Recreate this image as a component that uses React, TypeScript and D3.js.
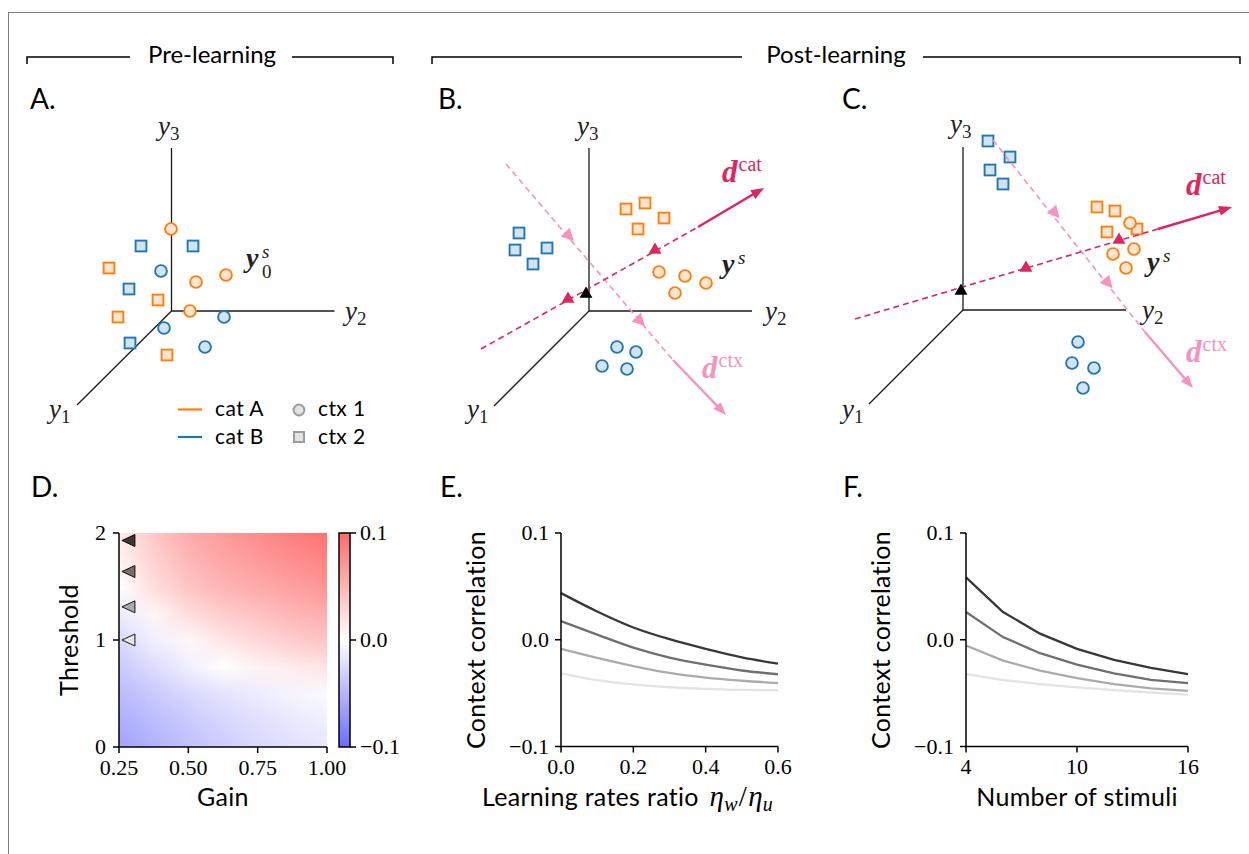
import React, { useMemo } from 'react';
import * as d3 from 'd3';

// ---------- fonts & colours ----------
const SANS = "Lato, 'Open Sans', sans-serif";
const SERIF = "'Liberation Serif', 'DejaVu Serif', serif";
const ORANGE = '#ff7f0e';
const BLUE = '#1f77b4';
const CRIMSON = '#e0245e';
const PINK = '#f592c0';

// ---------- panel A–C data (projected coordinates, units along y2 / y3) ----------
type P = [number, number];
const A_CATA_CTX1: P[] = [[-0.05, 8.2], [2.45, 2.9], [5.45, 3.6], [1.85, 0]];
const A_CATB_CTX1: P[] = [[-1.05, 4.0], [5.25, -0.6], [-0.75, -1.7], [3.35, -3.6]];
const A_CATA_CTX2: P[] = [[-6.25, 4.3], [-1.35, 1.1], [-5.35, -0.6], [-0.45, -4.4]];
const A_CATB_CTX2: P[] = [[-3.05, 6.5], [2.15, 6.5], [-4.25, 2.2], [-4.15, -3.2]];

const B_CATA_CTX1: P[] = [[7.0, 3.9], [9.6, 3.5], [11.7, 2.8], [8.6, 1.8]];
const B_CATB_CTX1: P[] = [[2.8, -3.6], [4.7, -4.1], [1.3, -5.5], [3.8, -5.8]];
const B_CATA_CTX2: P[] = [[3.7, 10.2], [5.6, 10.8], [7.5, 9.3], [4.9, 8.2]];
const B_CATB_CTX2: P[] = [[-7.0, 7.8], [-7.4, 6.1], [-4.2, 6.3], [-5.6, 4.7]];
const B_DCAT: P[] = [[-10.8, -3.8], [10.9, 8.4], [17.5, 12.3]];
const B_DCAT_MARKS: P[] = [[-2.1, 1.2], [6.6, 6.1]];
const B_DCTX: P[] = [[-8.3, 14.7], [8.4, -4.9], [13.7, -10.4]];
const B_DCTX_MARKS: P[] = [[-2.0, 7.5], [5.1, -1.0]];
const B_YS: P = [-0.3, 1.7];

const C_CATA_CTX1: P[] = [[16.7, 8.7], [17.1, 6.1], [15.0, 5.6], [16.3, 4.2]];
const C_CATB_CTX1: P[] = [[11.5, -3.2], [10.9, -5.3], [13.1, -5.8], [12.0, -7.8]];
const C_CATA_CTX2: P[] = [[13.4, 10.3], [15.2, 9.9], [14.4, 7.8], [17.4, 8.1]];
const C_CATB_CTX2: P[] = [[2.5, 16.9], [4.7, 15.3], [2.7, 14.0], [4.0, 12.6]];
const C_DCAT: P[] = [[-10.8, -0.9], [19.5, 8.1], [26.9, 10.3]];
const C_DCAT_MARKS: P[] = [[6.3, 4.2], [15.6, 7.0]];
const C_DCTX: P[] = [[3.0, 17.0], [18.2, -2.2], [23.0, -7.8]];
const C_DCTX_MARKS: P[] = [[9.2, 9.7], [14.5, 2.7]];
const C_YS: P = [-0.2, 1.9];

// ---------- panel D data ----------
const GAIN = [0.25, 0.375, 0.5, 0.625, 0.75, 0.875, 1.0];
const THRESH = [0, 0.25, 0.5, 0.75, 1.0, 1.25, 1.5, 1.75, 2.0];
const CORR_T000 = [-0.062, -0.052, -0.042, -0.033, -0.026, -0.020, -0.016];
const CORR_T025 = [-0.055, -0.045, -0.035, -0.027, -0.021, -0.015, -0.010];
const CORR_T050 = [-0.046, -0.036, -0.026, -0.018, -0.012, -0.007, -0.003];
const CORR_T075 = [-0.036, -0.023, -0.010, 0.000, 0.008, 0.013, 0.018];
const CORR_T100 = [-0.025, -0.010, 0.005, 0.017, 0.026, 0.034, 0.040];
const CORR_T125 = [-0.012, 0.007, 0.023, 0.034, 0.042, 0.049, 0.055];
const CORR_T150 = [0.001, 0.022, 0.040, 0.050, 0.057, 0.064, 0.071];
const CORR_T175 = [0.008, 0.031, 0.049, 0.060, 0.068, 0.076, 0.083];
const CORR_T200 = [0.014, 0.038, 0.057, 0.068, 0.078, 0.087, 0.095];
const CORR_GRID = [CORR_T000, CORR_T025, CORR_T050, CORR_T075, CORR_T100, CORR_T125, CORR_T150, CORR_T175, CORR_T200];
const MARK_THRESH = [1.0, 1.31, 1.64, 1.93];
const MARK_GAIN = 0.284;
const SHADES = ['#e4e4e4', '#ababab', '#6f6f6f', '#383838'];
const CBAR_TICKS = [-0.1, 0, 0.1];

// ---------- panel E data ----------
const ETA_RATIO = [0, 0.1, 0.2, 0.3, 0.4, 0.5, 0.6];
const E_T100 = [-0.0314, -0.0378, -0.0419, -0.0445, -0.0460, -0.0470, -0.0473];
const E_T131 = [-0.0086, -0.0170, -0.0246, -0.0311, -0.0355, -0.0384, -0.0406];
const E_T164 = [0.0175, 0.0048, -0.0074, -0.0167, -0.0234, -0.0288, -0.0323];
const E_T193 = [0.0437, 0.0265, 0.0115, 0.0005, -0.0085, -0.0165, -0.0224];
const E_SERIES = [E_T100, E_T131, E_T164, E_T193];

// ---------- panel F data ----------
const N_STIM = [4, 6, 8, 10, 12, 14, 16];
const F_T100 = [-0.0321, -0.0377, -0.0415, -0.0447, -0.0472, -0.0494, -0.0515];
const F_T131 = [-0.0054, -0.0195, -0.0289, -0.0359, -0.0415, -0.0456, -0.0478];
const F_T164 = [0.0260, 0.0025, -0.0126, -0.0233, -0.0315, -0.0375, -0.0406];
const F_T193 = [0.0585, 0.0260, 0.0057, -0.0085, -0.0189, -0.0264, -0.0321];
const F_SERIES = [F_T100, F_T131, F_T164, F_T193];

const CORR_TICKS = [-0.1, 0, 0.1];
const E_TICKS = [0, 0.2, 0.4, 0.6];
const F_TICKS = [4, 10, 16];
const GAIN_TICKS = [0.25, 0.5, 0.75, 1.0];
const THRESH_TICKS = [0, 1, 2];

const fmtMinus = (s: string) => s.replace('-', '\u2212');

// ---------- 3D-ish panel ----------
type Dir = { pts: P[]; marks: P[]; color: string; rotMarks: boolean };
type Panel3DProps = {
  ox: number; oy: number; axisLen: number; y1End: P;
  catA1: P[]; catB1: P[]; catA2: P[]; catB2: P[];
  dirs?: Dir[]; ys?: P;
  labels: { y3: P; y2: P; y1: P };
};

function Marker({ x, y, shape, color }: { x: number; y: number; shape: 'c' | 's'; color: string }) {
  const fill = d3.interpolateRgb('#ffffff', color)(0.2);
  if (shape === 'c') return <circle cx={x} cy={y} r={5.9} fill={fill} stroke={color} strokeWidth={1.9} />;
  return <rect x={x - 5.4} y={y - 5.4} width={10.8} height={10.8} fill={fill} stroke={color} strokeWidth={1.9} />;
}

function AxisLabel({ x, y, sub }: { x: number; y: number; sub: string }) {
  return (
    <text x={x} y={y} fontFamily={SERIF} fontSize={27} fontStyle="italic" fill="#222">
      y<tspan fontStyle="normal" fontSize={19} dy={5}>{sub}</tspan>
    </text>
  );
}

function Panel3D(p: Panel3DProps) {
  const sx = d3.scaleLinear().domain([0, 10]).range([p.ox, p.ox + 100]);
  const sy = d3.scaleLinear().domain([0, 10]).range([p.oy, p.oy - 100]);
  const tri = d3.symbol(d3.symbolTriangle).size(72)() as string;
  return (
    <g>
      <g stroke="#1a1a1a" strokeWidth={1.3} fill="none">
        <line x1={sx(0)} y1={sy(0)} x2={sx(0)} y2={sy(p.axisLen)} />
        <line x1={sx(0)} y1={sy(0)} x2={sx(p.axisLen)} y2={sy(0)} />
        <line x1={sx(0)} y1={sy(0)} x2={sx(p.y1End[0])} y2={sy(p.y1End[1])} />
      </g>
      <AxisLabel x={sx(p.labels.y3[0])} y={sy(p.labels.y3[1])} sub="3" />
      <AxisLabel x={sx(p.labels.y2[0])} y={sy(p.labels.y2[1])} sub="2" />
      <AxisLabel x={sx(p.labels.y1[0])} y={sy(p.labels.y1[1])} sub="1" />
      {p.catB2.map((d, i) => <Marker key={'b2' + i} x={sx(d[0])} y={sy(d[1])} shape="s" color={BLUE} />)}
      {p.catA2.map((d, i) => <Marker key={'a2' + i} x={sx(d[0])} y={sy(d[1])} shape="s" color={ORANGE} />)}
      {p.catB1.map((d, i) => <Marker key={'b1' + i} x={sx(d[0])} y={sy(d[1])} shape="c" color={BLUE} />)}
      {p.catA1.map((d, i) => <Marker key={'a1' + i} x={sx(d[0])} y={sy(d[1])} shape="c" color={ORANGE} />)}
      {(p.dirs || []).map((dir, k) => {
        const [a, b, c] = dir.pts.map(d => [sx(d[0]), sy(d[1])]);
        const ang = (Math.atan2(c[1] - b[1], c[0] - b[0]) * 180) / Math.PI;
        return (
          <g key={'dir' + k}>
            <line x1={a[0]} y1={a[1]} x2={b[0]} y2={b[1]} stroke={dir.color} strokeWidth={1.6} strokeDasharray="6,4" />
            <line x1={b[0]} y1={b[1]} x2={c[0] - 10 * Math.cos((ang * Math.PI) / 180)} y2={c[1] - 10 * Math.sin((ang * Math.PI) / 180)} stroke={dir.color} strokeWidth={2.4} />
            <path d="M0,0 L-13,-5 L-13,5 Z" fill={dir.color} transform={`translate(${c[0]},${c[1]}) rotate(${ang})`} />
            {dir.marks.map((m, i) =>
              dir.rotMarks ? (
                <path key={i} d="M7,0 L-5.5,-6.3 L-5.5,6.3 Z" fill={dir.color} transform={`translate(${sx(m[0])},${sy(m[1])}) rotate(${ang})`} />
              ) : (
                <path key={i} d={tri} fill={dir.color} transform={`translate(${sx(m[0])},${sy(m[1])})`} />
              )
            )}
          </g>
        );
      })}
      {p.ys && <path d={tri} fill="#000" transform={`translate(${sx(p.ys[0])},${sy(p.ys[1])})`} />}
    </g>
  );
}

// ---------- bold d label with superscript ----------
function DLabel({ x, y, sup, color }: { x: number; y: number; sup: string; color: string }) {
  return (
    <text x={x} y={y} fill={color} fontFamily={SERIF}>
      <tspan fontSize={31} fontWeight="bold" fontStyle="italic">d</tspan>
      <tspan fontSize={20} dy={-11} dx={1}>{sup}</tspan>
    </text>
  );
}
function YsLabel({ x, y, sub }: { x: number; y: number; sub?: string }) {
  return (
    <g fontFamily={SERIF} fill="#222">
      <text x={x} y={y} fontSize={28} fontWeight="bold" fontStyle="italic">y</text>
      <text x={x + 16} y={y - 9} fontSize={19} fontStyle="italic">s</text>
      {sub && <text x={x + 16} y={y + 11} fontSize={19}>{sub}</text>}
    </g>
  );
}

// ---------- line panels ----------
function LinePanel({ x0, x1, xDomain, xTicks, xs, series, curve, tickFmt }: any) {
  const sx = d3.scaleLinear().domain(xDomain).range([x0, x1]);
  const sy = d3.scaleLinear().domain([-0.1, 0.1]).range([746.5, 533]);
  const line = d3.line<number>().x((_, i) => sx(xs[i])).y(d => sy(d)).curve(curve);
  return (
    <g>
      {series.map((s: number[], i: number) => (
        <path key={i} d={line(s) as string} fill="none" stroke={SHADES[i]} strokeWidth={2.3} />
      ))}
      <g stroke="#000" strokeWidth={1.5}>
        <line x1={x0} y1={533} x2={x0} y2={746.5} />
        <line x1={x0} y1={746.5} x2={x1} y2={746.5} />
        {CORR_TICKS.map(t => <line key={t} x1={x0 - 6} x2={x0} y1={sy(t)} y2={sy(t)} />)}
        {xTicks.map((t: number) => <line key={t} x1={sx(t)} x2={sx(t)} y1={746.5} y2={752.5} />)}
      </g>
      {CORR_TICKS.map(t => (
        <text key={t} x={x0 - 12} y={sy(t) + 7} textAnchor="end" fontFamily={SERIF} fontSize={22}>{fmtMinus(d3.format('.1f')(t))}</text>
      ))}
      {xTicks.map((t: number) => (
        <text key={t} x={sx(t)} y={774} textAnchor="middle" fontFamily={SERIF} fontSize={22}>{tickFmt(t)}</text>
      ))}
    </g>
  );
}

const LABEL_STYLE = { fontFamily: SANS, fontSize: 25, letterSpacing: 0.3 } as const;

export default function App() {
  const gx = d3.scaleLinear().domain([0.25, 1.0]).range([119, 327]);
  const gy = d3.scaleLinear().domain([0, 2]).range([747, 533]);
  const cscale = d3.scaleLinear<string>().domain([-0.1, 0, 0.1]).range(['#6b6bff', '#ffffff', '#ff6b6b']);
  const cbarY = d3.scaleLinear().domain([-0.1, 0.1]).range([747, 533]);

  const heatUrl = useMemo(() => {
    const c = document.createElement('canvas');
    c.width = GAIN.length;
    c.height = THRESH.length;
    const ctx = c.getContext('2d');
    if (!ctx) return '';
    const img = ctx.createImageData(c.width, c.height);
    THRESH.forEach((_, j) => {
      GAIN.forEach((__, i) => {
        const col = d3.rgb(cscale(CORR_GRID[j][i]));
        const row = c.height - 1 - j;
        const k = (row * c.width + i) * 4;
        img.data[k] = col.r; img.data[k + 1] = col.g; img.data[k + 2] = col.b; img.data[k + 3] = 255;
      });
    });
    ctx.putImageData(img, 0, 0);
    return c.toDataURL();
  }, []);

  const cellW = (gx(1) - gx(0.25)) / (GAIN.length - 1);
  const cellH = (gy(0) - gy(2)) / (THRESH.length - 1);

  return (
    <svg width={1249} height={854} style={{ position: 'absolute', left: 0, top: 0, background: '#fff' }}>
      <defs>
        <clipPath id="hmclip"><rect x={gx(0.25)} y={gy(2)} width={gx(1) - gx(0.25)} height={gy(0) - gy(2)} /></clipPath>
        <linearGradient id="cbar" x1="0" y1="1" x2="0" y2="0">
          <stop offset="0%" stopColor={cscale(-0.1)} />
          <stop offset="50%" stopColor={cscale(0)} />
          <stop offset="100%" stopColor={cscale(0.1)} />
        </linearGradient>
      </defs>
      <rect x={8.5} y={12.5} width={1400} height={1000} fill="none" stroke="#808080" strokeWidth={1} />

      {/* headers */}
      <g stroke="#000" strokeWidth={1.5} fill="none">
        <path d="M27,64 V57 H130" />
        <path d="M292,57 H393 V64" />
        <path d="M432,64 V57 H742" />
        <path d="M923,57 H1240 V64" />
      </g>
      <text x={212} y={63} textAnchor="middle" fontFamily={SANS} fontSize={24}>Pre-learning</text>
      <text x={836} y={63} textAnchor="middle" fontFamily={SANS} fontSize={24}>Post-learning</text>

      {/* panel letters */}
      {[['A.', 30, 109], ['B.', 438, 109], ['C.', 842, 109], ['D.', 31, 497], ['E.', 440, 497], ['F.', 843, 497]].map(([t, x, y]) => (
        <text key={t as string} x={x as number} y={y as number} fontFamily={SANS} fontSize={28}>{t}</text>
      ))}

      {/* Panel A */}
      <Panel3D ox={171.5} oy={311} axisLen={16.3} y1End={[-9.45, -9.4]}
        catA1={A_CATA_CTX1} catB1={A_CATB_CTX1} catA2={A_CATA_CTX2} catB2={A_CATB_CTX2}
        labels={{ y3: [-1.35, 17.6], y2: [17.35, -0.9], y1: [-12.25, -10.7] }} />
      <YsLabel x={246} y={267} sub="0" />
      {/* legend */}
      <g>
        <line x1={178} x2={202} y1={409.5} y2={409.5} stroke={ORANGE} strokeWidth={2.2} />
        <line x1={178} x2={202} y1={437} y2={437} stroke={BLUE} strokeWidth={2.2} />
        <text x={215} y={416} fontFamily={SANS} fontSize={21} letterSpacing={0.4}>cat A</text>
        <text x={215} y={444} fontFamily={SANS} fontSize={21} letterSpacing={0.4}>cat B</text>
        <circle cx={299} cy={410} r={5.4} fill="#e2e2e2" stroke="#9c9c9c" strokeWidth={2} />
        <rect x={294} y={432} width={10} height={10} fill="#e2e2e2" stroke="#9c9c9c" strokeWidth={2} />
        <text x={318} y={416} fontFamily={SANS} fontSize={21} letterSpacing={0.4}>ctx 1</text>
        <text x={318} y={444} fontFamily={SANS} fontSize={21} letterSpacing={0.4}>ctx 2</text>
      </g>

      {/* Panel B */}
      <Panel3D ox={589} oy={311} axisLen={16.3} y1End={[-9.5, -9.5]}
        catA1={B_CATA_CTX1} catB1={B_CATB_CTX1} catA2={B_CATA_CTX2} catB2={B_CATB_CTX2}
        dirs={[{ pts: B_DCTX, marks: B_DCTX_MARKS, color: PINK, rotMarks: true }, { pts: B_DCAT, marks: B_DCAT_MARKS, color: CRIMSON, rotMarks: false }]}
        ys={B_YS}
        labels={{ y3: [-1.2, 17.6], y2: [17.6, -0.9], y1: [-12.2, -10.7] }} />
      <DLabel x={722} y={182} sup="cat" color={CRIMSON} />
      <DLabel x={702} y={378} sup="ctx" color={PINK} />
      <YsLabel x={722} y={273} />

      {/* Panel C */}
      <Panel3D ox={963} oy={310} axisLen={16.3} y1End={[-9.4, -9.4]}
        catA1={C_CATA_CTX1} catB1={C_CATB_CTX1} catA2={C_CATA_CTX2} catB2={C_CATB_CTX2}
        dirs={[{ pts: C_DCTX, marks: C_DCTX_MARKS, color: PINK, rotMarks: true }, { pts: C_DCAT, marks: C_DCAT_MARKS, color: CRIMSON, rotMarks: false }]}
        ys={C_YS}
        labels={{ y3: [-1.3, 17.7], y2: [17.9, -0.9], y1: [-12.1, -10.8] }} />
      <DLabel x={1186} y={195} sup="cat" color={CRIMSON} />
      <DLabel x={1186} y={362} sup="ctx" color={PINK} />
      <YsLabel x={1147} y={271} />

      {/* Panel D */}
      <image href={heatUrl} x={gx(0.25) - cellW / 2} y={gy(2) - cellH / 2}
        width={cellW * GAIN.length} height={cellH * THRESH.length}
        preserveAspectRatio="none" clipPath="url(#hmclip)" style={{ imageRendering: 'auto' }} />
      {MARK_THRESH.map((t, i) => (
        <path key={t} d="M-6.5,0 L6.5,-6 L6.5,6 Z" fill={SHADES[i]} stroke="#000" strokeWidth={0.9}
          transform={`translate(${gx(MARK_GAIN)},${gy(t)})`} />
      ))}
      <g stroke="#000" strokeWidth={1.5}>
        <line x1={119} y1={533} x2={119} y2={747} />
        <line x1={119} y1={747} x2={327} y2={747} />
        {THRESH_TICKS.map(t => <line key={t} x1={113} x2={119} y1={gy(t)} y2={gy(t)} />)}
        {GAIN_TICKS.map(t => <line key={t} x1={gx(t)} x2={gx(t)} y1={747} y2={753} />)}
      </g>
      {THRESH_TICKS.map(t => (
        <text key={t} x={106} y={gy(t) + 7} textAnchor="end" fontFamily={SERIF} fontSize={22}>{t}</text>
      ))}
      {GAIN_TICKS.map(t => (
        <text key={t} x={gx(t)} y={775} textAnchor="middle" fontFamily={SERIF} fontSize={22}>{d3.format('.2f')(t)}</text>
      ))}
      <text x={223} y={806} textAnchor="middle" {...LABEL_STYLE}>Gain</text>
      <text transform="translate(78,640) rotate(-90)" textAnchor="middle" {...LABEL_STYLE}>Threshold</text>
      {/* colorbar */}
      <rect x={339} y={533} width={11} height={214} fill="url(#cbar)" stroke="#000" strokeWidth={1.5} />
      {CBAR_TICKS.map(t => (
        <g key={t}>
          <line x1={350} x2={356} y1={cbarY(t)} y2={cbarY(t)} stroke="#000" strokeWidth={1.5} />
          <text x={360} y={cbarY(t) + 7} fontFamily={SERIF} fontSize={22}>{fmtMinus(d3.format('.1f')(t))}</text>
        </g>
      ))}

      {/* Panel E */}
      <LinePanel x0={561} x1={778} xDomain={[0, 0.6]} xTicks={E_TICKS} xs={ETA_RATIO} series={E_SERIES}
        curve={d3.curveMonotoneX} tickFmt={(t: number) => d3.format('.1f')(t)} />
      <text transform="translate(485,640) rotate(-90)" textAnchor="middle" {...LABEL_STYLE}>Context correlation</text>
      <text x={482} y={806} {...LABEL_STYLE}>
        Learning rates ratio{' '}
        <tspan fontFamily={SERIF} fontStyle="italic" fontSize={29} dx={4}>η</tspan>
        <tspan fontFamily={SERIF} fontStyle="italic" fontSize={20} dy={5}>w</tspan>
        <tspan fontFamily={SERIF} fontSize={29} dy={-5} dx={1}>/</tspan>
        <tspan fontFamily={SERIF} fontStyle="italic" fontSize={29} dx={1}>η</tspan>
        <tspan fontFamily={SERIF} fontStyle="italic" fontSize={20} dy={5}>u</tspan>
      </text>

      {/* Panel F */}
      <LinePanel x0={966} x1={1188} xDomain={[4, 16]} xTicks={F_TICKS} xs={N_STIM} series={F_SERIES}
        curve={d3.curveLinear} tickFmt={(t: number) => String(t)} />
      <text transform="translate(890,640) rotate(-90)" textAnchor="middle" {...LABEL_STYLE}>Context correlation</text>
      <text x={1077} y={806} textAnchor="middle" {...LABEL_STYLE}>Number of stimuli</text>
    </svg>
  );
}
